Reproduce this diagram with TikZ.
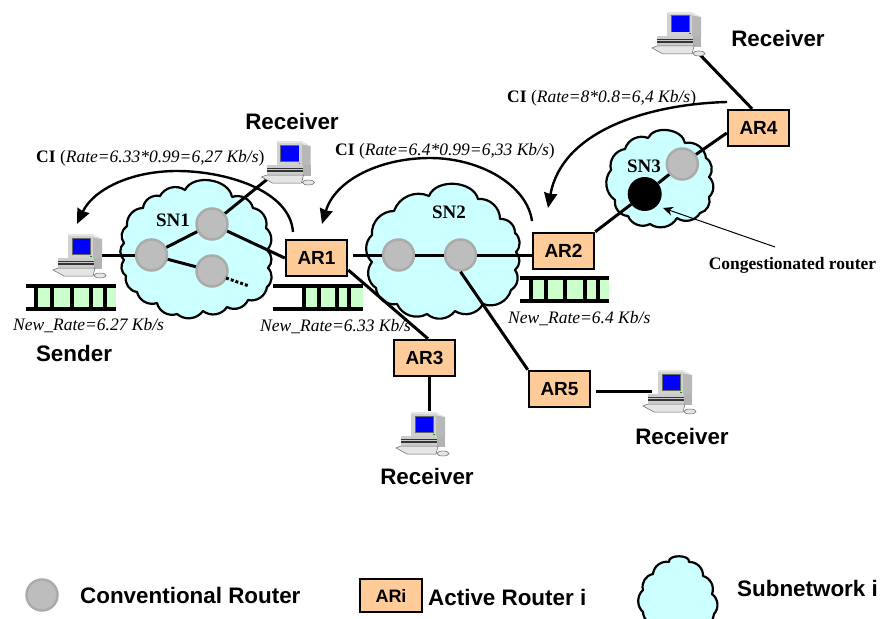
\documentclass[tikz,border=0pt]{standalone}
\usepackage{fontspec}
\setmainfont{Liberation Serif}
\setsansfont{Liberation Sans}
\usetikzlibrary{arrows.meta}
\definecolor{cloudc}{HTML}{CCFFFF}
\definecolor{arc}{HTML}{FFCC99}
\definecolor{qc}{HTML}{CCFFCC}
\tikzset{
 cloudst/.style={draw=black,line width=2.2pt,fill=cloudc,line join=round},
 bl/.style={bend left=48},
 bt/.style={bend left=72},
 router/.style={circle,draw=black!33,line width=2.5pt,fill=black!26,minimum size=31pt,inner sep=0pt},
 ar/.style={draw=black,line width=2.5pt,fill=arc,minimum width=61pt,minimum height=36pt,inner sep=0pt,font=\sffamily\bfseries\fontsize{19}{19}\selectfont},
 conn/.style={line width=3pt},
 ciarrow/.style={line width=2.4pt,-{Stealth[length=15pt,width=13pt,inset=1pt]}},
 comp/.style={minimum width=36pt,minimum height=44pt,inner sep=0pt},
 ci/.style={inner sep=0pt,anchor=base west,font=\fontsize{17.5}{17.5}\selectfont},
 nr/.style={inner sep=0pt,anchor=base west,font=\itshape\fontsize{17.5}{17.5}\selectfont},
 sn/.style={inner sep=0pt,font=\bfseries\fontsize{19}{19}\selectfont},
 lab/.style={inner sep=0pt,font=\sffamily\bfseries\fontsize{22.4}{22.4}\selectfont},
 rail/.style={line width=4pt},
 bar/.style={line width=4.5pt},
 pics/computer/.style={code={
  \fill[black!28] (13,-18) -- (22,-16) -- (22,3) -- (13,3) -- cycle;
  \fill[black!10] (-12,-21) -- (13,-21) -- (22,-16) -- (13,-18) -- (-12,-18) -- cycle;
  \fill[black!18] (-12,-19) rectangle (13,3);
  \fill[black!60] (-8.5,-17.5) rectangle (10.5,-0.5);
  \fill[blue] (-7.5,-16.5) rectangle (10,-1);
  \fill[green!60!black] (10,0.5) rectangle (11.5,1.5);
  \fill[black!20] (-22,3) rectangle (22,14);
  \fill[black!80] (-22,6) rectangle (22,7.2);
  \fill[black!80] (-22,8.4) rectangle (14,9.6);
  \fill[black!30] (14,3) rectangle (22,14);
  \fill[black!10,draw=black!60,line width=.5pt] (-27,15) -- (-22,13) -- (15,13) -- (13,21) -- (-16,21) -- cycle;
  \fill[black!10,draw=black!60,line width=.5pt] (20,20.5) ellipse (6 and 2.5);
 }}
}
\begin{document}
\begin{tikzpicture}[x=1pt,y=-1pt]
\useasboundingbox (0,0) rectangle (880,618);
% clouds
\draw[cloudst] (185,190) to[bt] (232,197) to[bl] (253,208) to[bl] (266,228) to[bl] (267,250) to[bl] (268,268) to[bl] (267,287) to[bl] (248,300) to[bl] (227,307) to[bl] (203,311) to[bl] (177,314) to[bl] (157,303) to[bl] (137,292) to[bl] (126,276) to[bl] (124,260) to[bl] (124,243) to[bl] (127,226) to[bl] (143,208) to[bl] (160,196) to[bl] (185,190) -- cycle;
\draw[cloudst] (429,196) to[bt] (478,199) to[bl] (500,219) to[bl] (515,233) to[bl] (516,252) to[bl] (515,270) to[bl] (511,290) to[bl] (483,304) to[bl] (455,311) to[bl] (427,314) to[bl] (397,304) to[bl] (376,288) to[bl] (372,262) to[bl] (372,235) to[bl] (394,211) to[bl] (429,196) -- cycle;
\draw[cloudst] (648,138) to[bt] (685,143) to[bl] (706,158) to[bl] (709,177) to[bl] (709,197) to[bl] (700,213) to[bl] (677,218) to[bl] (650,224) to[bl] (628,216) to[bl] (615,200) to[bl] (611,170) to[bl] (625,149) to[bl] (648,138) -- cycle;
\draw[cloudst] (669,562) to[bend left=100] (689,562) to[bl] (703,576) to[bl] (712,594) to[bl] (714,614) to[bl] (700,626) to[bl] (660,626) to[bl] (643,612) to[bl] (643,590) to[bl] (653,574) to[bl] (669,562) -- cycle;
% queues
\fill[qc] (36,286) rectangle (116,309);
\fill[qc] (304,286) rectangle (363,309);
\fill[qc] (531,278) rectangle (609,301);
\draw[rail] (26,286) -- (116,286) (26,309) -- (116,309);
\draw[rail] (273,286) -- (363,286) (273,309) -- (363,309);
\draw[rail] (520,278) -- (609,278) (520,301) -- (609,301);
\foreach \q in {36,52,72,91,105} \draw[bar] (\q,286) -- (\q,309);
\foreach \q in {304,319,337,349} \draw[bar] (\q,286) -- (\q,309);
\foreach \q in {531,546,565,585,598} \draw[bar] (\q,278) -- (\q,301);
% nodes
\node[router] (r1) at (151.5,255) {};
\node[router] (r2) at (212,224) {};
\node[router] (r3) at (212,271) {};
\node[router] (r4) at (398.5,255) {};
\node[router] (r5) at (460.5,255) {};
\node[router] (r6) at (682.3,164) {};
\node[circle,fill=black,minimum size=34pt,inner sep=0pt] (r7) at (644.7,194) {};
\node[router] (lr) at (42,595) {};
\node[ar] (ar1) at (316.5,258) {AR1};
\node[ar] (ar2) at (563.5,251) {AR2};
\node[ar] (ar3) at (424.5,358) {AR3};
\node[ar] (ar4) at (758.5,128) {AR4};
\node[ar] (ar5) at (559.5,389) {AR5};
\node[ar,minimum width=62pt,minimum height=33pt,font=\sffamily\bfseries\fontsize{18}{18}\selectfont] (lar) at (391,595.5) {ARi};
\node[comp] (snd) at (80,255) {};
\node[comp] (rc1) at (288.5,162) {};
\node[comp] (rc3) at (423,433) {};
\node[comp] (rc4) at (679,33) {};
\node[comp] (rc5) at (670,391) {};
\coordinate (gap) at (353,255);
\coordinate (dots1) at (226,278);
\coordinate (dots2) at (249,286);
% connectors
\draw[conn] (snd.east |- r1.center) -- (r1);
\draw[conn] (r1) -- (r2);
\draw[conn] (r1) -- (r3);
\draw[conn] (r2) -- (rc1);
\draw[conn] (r2) -- (ar1.west);
\draw[conn,dotted] (dots1) -- (dots2);
\draw[conn] (gap) -- (r4);
\draw[conn] (r4) -- (r5);
\draw[conn] (r5) -- (ar2.west |- r5.center);
\draw[conn] (r5.south) -- (ar5.north west);
\draw[conn] ([yshift=-12pt]ar1.east) -- ([xshift=3.5pt]ar3.north);
\draw[conn] ([xshift=5pt]ar3.south) -- ([xshift=5pt]ar3.south |- rc3.north);
\draw[conn] (ar2.north east) -- (r7);
\draw[conn] (r7) -- (r6);
\draw[conn] (r6) -- ([yshift=-5pt]ar4.west);
\draw[conn] ([xshift=-6.5pt]ar4.north) -- (rc4);
\draw[conn] ([xshift=5pt,yshift=-2pt]ar5.east) -- ([yshift=-2pt]rc5.west |- ar5.east);
% computers
\pic at (snd.center) {computer};
\pic at (rc1.center) {computer};
\pic at (rc3.center) {computer};
\pic at (rc4.center) {computer};
\pic at (rc5.center) {computer};
% arrows
\coordinate (t1) at (293,232);
\coordinate (h1) at (77,224);
\coordinate (t2) at (532,221);
\coordinate (h2) at (322,224);
\coordinate (t3) at (727,102);
\coordinate (h3) at (548,208);
\draw[ciarrow] (t1) .. controls (290,190) and (225,171) .. (177,171) .. controls (130,171) and (93,190) .. (h1);
\draw[ciarrow] (t2) .. controls (527,185) and (480,158) .. (430,158) .. controls (380,158) and (335,180) .. (h2);
\draw[ciarrow] (t3) .. controls (650,104) and (562,130) .. (h3);
\coordinate (ct) at (775,247);
\coordinate (ch) at (663,208);
\draw[line width=1pt,-{Stealth[length=10pt,width=9pt]}] (ct) -- (ch);
% texts
\node[ci] (c1) at (36,162) {\textbf{CI} (\textit{Rate=6.33*0.99=6,27 Kb/s})};
\node[ci] (c2) at (335,155) {\textbf{CI} (\textit{Rate=6.4*0.99=6,33 Kb/s})};
\node[ci] (c3) at (507,102) {\textbf{CI} (\textit{Rate=8*0.8=6,4 Kb/s})};
\node[nr] (n1) at (13,330) {New\_Rate=6.27 Kb/s};
\node[nr] (n2) at (260,331) {New\_Rate=6.33 Kb/s};
\node[nr] (n3) at (508,323) {New\_Rate=6.4 Kb/s};
\node[sn] (s1) at (173,220) {SN1};
\node[sn] (s2) at (449,212) {SN2};
\node[sn] (s3) at (644,166) {SN3};
\node[inner sep=0pt,font=\bfseries\fontsize{17.5}{17.5}\selectfont] (cr) at (792.5,265) {Congestionated router};
\node[lab] (l1) at (292,121) {Receiver};
\node[lab] (l2) at (778,38) {Receiver};
\node[lab] (l3) at (427,476) {Receiver};
\node[lab] (l4) at (682,436) {Receiver};
\node[lab] (l5) at (74,353) {Sender};
\node[lab,anchor=west] (k1) at (80,595) {Conventional Router};
\node[lab,anchor=west] (k2) at (428,597) {Active Router i};
\node[lab,anchor=west] (k3) at (737,588) {Subnetwork i};
\end{tikzpicture}
\end{document}
